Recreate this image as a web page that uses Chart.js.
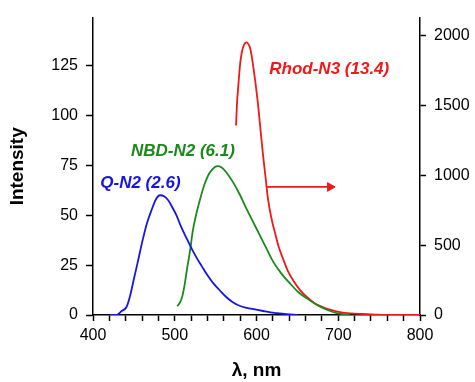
<!DOCTYPE html>
<html>

<head>
  <meta charset="UTF-8" />
  <title>Fluorescence spectra</title>
  <script src="https://cdn.jsdelivr.net/npm/chart.js@4.4.1/dist/chart.umd.min.js"></script>
  <style>
    body { margin: 0; background: #fff; }
  </style>
</head>

<body>
  <canvas id="chart" width="475" height="382"></canvas>
  <script>
    // Q-N2 (left axis)
    const qWl = [421, 429, 435, 441, 445, 450, 455, 461, 466, 472, 477, 482, 487, 492, 497, 502, 508, 515, 521, 527, 533, 539, 547, 555, 563, 571, 580, 588, 598, 608, 617, 625, 637, 650];
    const qInt = [0, 0, 2, 4, 9, 18, 27, 38, 46, 53, 58, 60, 59.5, 57.5, 54, 50, 44, 38, 33, 28.5, 24.5, 20.5, 16, 12.4, 9, 6.4, 4.5, 3.6, 2.8, 2, 1.3, 0.9, 0.4, 0];

    // NBD-N2 (left axis)
    const nbdWl = [503, 506, 509, 512, 515, 519, 522, 526, 531, 536, 541, 546, 552, 557, 563, 571, 580, 588, 596, 604, 612, 620, 630, 641, 651, 662, 672, 681, 690, 698, 714];
    const nbdInt = [4.4, 6, 9, 15, 23, 33, 42, 50, 58, 65, 70, 73, 74.6, 74, 71.5, 66.7, 60, 53, 46.5, 40, 33.5, 27, 21, 15.8, 11.5, 8.2, 5.5, 3.5, 2, 1, 0];

    // Rhod-N3 (right axis)
    const rhodWl = [575, 576, 578, 580, 582, 584, 586, 588, 590, 592, 594, 596, 599, 602, 605, 608, 611, 614, 618, 623, 627, 632, 638, 645, 653, 662, 671, 681, 691, 702, 715, 730, 745, 763, 780, 800];
    const rhodInt = [1357, 1498, 1660, 1800, 1880, 1925, 1948, 1952, 1940, 1915, 1860, 1780, 1650, 1500, 1320, 1145, 990, 834, 700, 580, 490, 410, 320, 247, 180, 127, 85, 56, 36, 21, 12, 7, 3, 0, 0, 0];

    // arrow pointing to the right axis
    const arrowWl = [613, 690];
    const arrowInt = [917, 917];

    const leftTicks = [0, 25, 50, 75, 100, 125];
    const rightTicks = [0, 500, 1000, 1500, 2000];

    const labels = ['Rhod-N3 (13.4)', 'NBD-N2 (6.1)', 'Q-N2 (2.6)'];
    const labelWl = [689, 510, 458];
    const labelInt = [123.3, 81.9, 66.1];
    const colors = ['#f01818', '#1a8a1a', '#1515e6'];

    const font = '"Liberation Sans", Arial, sans-serif';

    function pts(xs, ys) {
      return xs.map((x, i) => ({ x: x, y: ys[i] }));
    }

    const textLabels = {
      id: 'textLabels',
      afterDatasetsDraw(chart) {
        const ctx = chart.ctx;
        const x = chart.scales.x, y = chart.scales.y;
        ctx.save();
        ctx.font = 'italic bold 17px ' + font;
        ctx.textAlign = 'center';
        ctx.textBaseline = 'middle';
        labels.forEach((t, i) => {
          ctx.fillStyle = colors[i];
          ctx.fillText(t, x.getPixelForValue(labelWl[i]), y.getPixelForValue(labelInt[i]));
        });
        ctx.restore();
      }
    };

    const ctx = document.getElementById('chart').getContext('2d');
    new Chart(ctx, {
      type: 'line',
      data: {
        datasets: [
          { data: pts(qWl, qInt), borderColor: colors[2], yAxisID: 'y' },
          { data: pts(nbdWl, nbdInt), borderColor: colors[1], yAxisID: 'y' },
          { data: pts(rhodWl, rhodInt), borderColor: colors[0], yAxisID: 'y1' },
          {
            data: pts(arrowWl, arrowInt), borderColor: colors[0], backgroundColor: colors[0],
            yAxisID: 'y1', cubicInterpolationMode: 'default', tension: 0,
            pointRadius: [0, 5], pointStyle: 'triangle', rotation: 90, pointBorderWidth: 1
          }
        ]
      },
      options: {
        responsive: false,
        animation: false,
        layout: { padding: { top: 13, left: 0, right: 0, bottom: 0 } },
        elements: {
          line: { borderWidth: 1.8, cubicInterpolationMode: 'monotone', fill: false },
          point: { radius: 0 }
        },
        plugins: { legend: { display: false }, tooltip: { enabled: false } },
        scales: {
          x: {
            type: 'linear', min: 400, max: 800,
            afterFit: s => { s.height = 67; },
            border: { display: true, color: '#000', width: 1.5 },
            grid: { drawOnChartArea: false, color: '#000', tickLength: 6, tickWidth: 1.5 },
            ticks: {
              stepSize: 20, autoSkip: false, maxRotation: 0, padding: 5, color: '#000',
              font: { family: font, size: 16 },
              callback: v => (v % 100 === 0 ? String(v) : '')
            },
            title: {
              display: true, text: 'λ, nm', color: '#000',
              font: { family: font, size: 19, weight: 'bold' },
              padding: { top: 0, bottom: 0 }
            }
          },
          y: {
            position: 'left', min: 0, max: 149,
            afterFit: s => { s.width = 93; },
            afterBuildTicks: s => { s.ticks = leftTicks.map(v => ({ value: v })); },
            border: { display: true, color: '#000', width: 1.5 },
            grid: { drawOnChartArea: false, color: '#000', tickLength: 7, tickWidth: 1.5 },
            ticks: {
              padding: 8, color: '#000',
              font: { family: font, size: 16 },
              callback: v => String(v)
            },
            title: {
              display: true, text: 'Intensity', color: '#000',
              font: { family: font, size: 19, weight: 'bold' },
              padding: { top: 6, bottom: 0 }
            }
          },
          y1: {
            position: 'right', min: 0, max: 2130,
            afterFit: s => { s.width = 55; },
            afterBuildTicks: s => { s.ticks = rightTicks.map(v => ({ value: v })); },
            border: { display: true, color: '#000', width: 1.5 },
            grid: { drawOnChartArea: false, color: '#000', tickLength: 6, tickWidth: 1.5 },
            ticks: {
              padding: 8, color: '#000',
              font: { family: font, size: 16 },
              callback: v => String(v)
            }
          }
        }
      },
      plugins: [textLabels]
    });
  </script>
</body>

</html>
